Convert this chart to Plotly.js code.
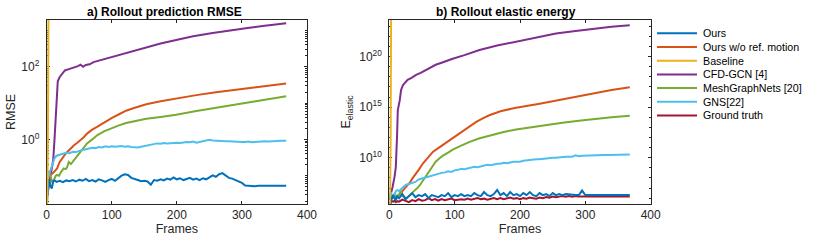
<!DOCTYPE html>
<html><head><meta charset="utf-8">
<script src="https://cdn.plot.ly/plotly-3.0.1.min.js"></script>
<style>html,body{margin:0;padding:0;background:#fff;}#chart{width:830px;height:241px;}</style>
</head><body><div id="chart"></div>
<script>
// ---------- data (values stored as log10 exponents) ----------
const seriesNames = ["Ours","Ours w/o ref. motion","Baseline","CFD-GCN [4]","MeshGraphNets [20]","GNS[22]","Ground truth"];
const seriesColors = ["#0072BD","#D95319","#EDB120","#7E2F8E","#77AC30","#4DBEEE","#A2142F"];
const xTickVals = [0,100,200,300,400];

const framesDense = [0,2,4,6,8,10,12,15,20,25,
 30,35,40,45,50,55,60,65,70,75,
 80,85,90,95,100,105,110,115,120,125,
 130,135,140,145,150,155,160,165,170,175,
 180,185,190,195,200,205,210,215,220,225,
 230,235,240,245,250,255,260,265,270,275,
 280,285,290,295,300,305,310,315,320,325,
 330,335,340,345,350,355,360,365,368];

// a) RMSE
const oursRmseExp = [-1.75,-1.35,-1.12,-1.3,-1.35,-1.15,-1.13,-1.17,-1.14,-1.18,
 -1.13,-1.15,-1.12,-1.16,-1.11,-1.14,-1.09,-1.15,-1.12,-1.16,
 -1.1,-1.13,-1.17,-1.12,-1.09,-1.14,-1.06,-1.0,-0.96,-0.98,
 -1.06,-1.1,-1.12,-1.15,-1.14,-1.16,-1.25,-1.12,-1.14,-1.1,
 -1.13,-1.08,-1.11,-1.05,-1.1,-1.07,-1.12,-1.09,-1.06,-1.11,
 -1.08,-1.12,-1.07,-1.1,-1.05,-0.99,-1.03,-0.96,-0.93,-1.0,
 -1.06,-1.08,-1.12,-1.14,-1.2,-1.27,-1.28,-1.28,-1.29,-1.28,
 -1.28,-1.29,-1.28,-1.28,-1.29,-1.28,-1.28,-1.28,-1.28];
const gnsRmseExp = [-1.0,-1.03,-0.95,-0.85,-0.75,-0.62,-0.52,-0.45,-0.42,-0.4,
 -0.37,-0.38,-0.34,-0.35,-0.31,-0.29,-0.27,-0.25,-0.23,-0.24,
 -0.21,-0.22,-0.19,-0.21,-0.19,-0.2,-0.19,-0.18,-0.2,-0.19,
 -0.21,-0.22,-0.22,-0.2,-0.18,-0.16,-0.14,-0.13,-0.11,-0.12,
 -0.1,-0.11,-0.1,-0.11,-0.09,-0.1,-0.08,-0.07,-0.08,-0.06,
 -0.09,-0.07,-0.05,-0.04,-0.01,-0.03,-0.04,-0.05,-0.04,-0.05,
 -0.05,-0.06,-0.05,-0.06,-0.07,-0.07,-0.06,-0.08,-0.07,-0.06,
 -0.06,-0.05,-0.06,-0.05,-0.04,-0.05,-0.04,-0.04,-0.04];
const woRefRmseFrames = [0,3,5,8,11,13,16,20,24,28,32,37,42,47,52,57,62,70,78,86,93,101,112,122,133,153,175,199,230,260,286,320,345,368];
const woRefRmseExp = [-0.95,-1.0,-0.93,-0.95,-0.9,-0.85,-0.8,-0.62,-0.5,-0.42,-0.34,-0.24,-0.16,-0.09,-0.02,0.06,0.16,0.27,0.35,0.44,0.52,0.6,0.7,0.79,0.86,0.97,1.05,1.13,1.22,1.3,1.36,1.44,1.49,1.54];
const mgnRmseFrames = [0,3,6,9,11,14,16,19,22,26,29,31,34,37,39,44,48,52,57,62,70,78,88,98,110,122,138,153,175,199,230,260,286,320,345,368];
const mgnRmseExp = [-0.95,-0.9,-1.03,-1.2,-1.12,-1.0,-0.98,-1.0,-0.9,-0.8,-0.82,-0.78,-0.62,-0.68,-0.64,-0.52,-0.45,-0.34,-0.22,-0.11,0.0,0.12,0.22,0.3,0.38,0.45,0.52,0.57,0.62,0.68,0.78,0.87,0.94,1.05,1.12,1.19];
const cfdRmseFrames = [0,3,5,8,10,12,14,15,17,20,24,28,33,38,43,48,52,56,60,66,72,78,85,92,101,115,130,153,175,199,225,255,280,306,335,368];
const cfdRmseExp = [-1.6,-1.3,-1.03,-0.8,-0.57,0.0,0.6,1.2,1.6,1.72,1.82,1.9,1.93,1.96,1.98,2.02,2.06,2.0,2.05,2.07,2.13,2.16,2.2,2.23,2.28,2.36,2.43,2.55,2.64,2.74,2.84,2.93,3.0,3.06,3.13,3.2];
const baselineFrames = [0,1,2,3,4,5];
const baselineRmseExp = [-2.2,-1.8,0.5,4,8,12];

// b) elastic energy
const oursEnergyExp = [5.45,5.5,6.0,6.3,6.0,5.8,6.2,6.0,6.4,5.9,
 6.2,6.5,6.1,6.3,6.2,6.4,6.0,6.3,6.2,6.1,
 6.3,6.2,6.5,6.1,6.3,6.2,6.4,6.2,6.3,6.2,
 6.5,6.3,6.2,6.6,6.3,6.2,6.4,6.8,6.3,6.5,
 6.2,6.6,6.3,6.4,6.2,6.5,6.3,6.6,6.3,6.2,
 6.5,6.3,6.4,6.2,6.5,6.3,6.4,6.3,6.4,6.35,
 6.3,6.3,6.3,6.75,6.3,6.3,6.3,6.3,6.3,6.3,
 6.3,6.3,6.3,6.3,6.3,6.3,6.3,6.3,6.3];
const truthEnergyExp = [5.6,5.55,5.7,5.65,5.75,5.6,5.7,5.65,5.85,5.7,
 5.6,5.8,5.7,5.9,5.75,5.8,6.0,5.8,5.9,5.75,
 5.9,5.8,5.85,5.95,5.8,5.85,5.9,5.85,5.95,5.85,
 5.9,6.0,5.9,5.95,5.85,5.95,6.0,5.9,6.0,5.9,
 5.95,6.05,5.95,6.0,5.9,6.0,5.95,6.05,6.0,5.95,
 6.05,6.0,6.1,6.05,6.15,6.1,6.15,6.2,6.15,6.2,
 6.15,6.2,6.15,6.15,6.15,6.15,6.15,6.15,6.15,6.15,
 6.15,6.15,6.15,6.15,6.15,6.15,6.15,6.15,6.15];
const gnsEnergyExp = [6.3,6.6,6.3,6.1,6.3,6.7,6.8,6.7,7.0,7.3,
 7.4,7.5,7.6,7.85,7.95,8.0,8.1,8.2,8.35,8.4,
 8.5,8.55,8.65,8.6,8.75,8.8,8.9,8.85,8.95,9.0,
 9.1,9.05,9.15,9.2,9.3,9.25,9.35,9.4,9.4,9.5,
 9.45,9.55,9.6,9.6,9.6,9.7,9.75,9.75,9.8,9.85,
 9.85,9.9,9.95,9.95,10.0,10.0,10.05,10.05,10.1,10.1,
 10.1,10.25,10.15,10.2,10.2,10.22,10.23,10.24,10.25,10.26,
 10.27,10.28,10.28,10.29,10.3,10.3,10.31,10.32,10.32];
const woRefEnergyFrames = [0,5,10,15,20,26,31,36,41,46,51,56,61,67,76,87,100,112,122,133,143,153,170,194,230,265,290,316,340,368];
const woRefEnergyExp = [6.1,6.0,6.1,6.3,6.7,7.1,7.5,8.0,8.4,8.9,9.4,9.8,10.2,10.6,11.0,11.5,12.1,12.6,13.1,13.55,13.9,14.2,14.6,14.95,15.35,15.75,16.05,16.4,16.7,16.97];
const mgnEnergyFrames = [0,4,8,11,14,18,21,25,28,32,36,40,43,47,51,56,61,66,71,76,82,90,97,110,122,137,153,175,194,230,265,290,316,340,368];
const mgnEnergyExp = [6.3,6.1,6.4,6.0,6.3,6.7,6.2,6.0,6.1,6.3,6.6,6.8,7.0,7.3,7.7,8.1,8.6,9.1,9.6,9.9,10.2,10.5,10.8,11.2,11.55,11.9,12.2,12.55,12.8,13.15,13.45,13.65,13.85,14.0,14.16];
const cfdEnergyFrames = [0,3,5,8,10,12,13,16,18,21,24,28,34,41,48,56,63,71,80,90,97,115,138,165,194,225,255,285,316,340,368];
const cfdEnergyExp = [5.8,6.5,7.1,8.1,9.1,12.4,14.7,15.7,16.7,17.2,17.4,17.7,17.9,18.2,18.4,18.7,18.9,19.2,19.4,19.65,19.8,20.15,20.66,21.1,21.5,21.9,22.3,22.55,22.8,22.95,23.1];
const baselineEnergyExp = [5.0,5.3,12,25,40,60];

// ---------- build ----------
const pow10 = a => a.map(v => Math.pow(10, v));
function tr(i, x, yExp, xa, ya) {
  return {x: x, y: pow10(yExp), xaxis: xa, yaxis: ya, type: 'scatter', mode: 'lines',
    name: seriesNames[i], showlegend: false,
    line: {color: seriesColors[i], width: 2}, hoverinfo: 'skip'};
}
const traces = [
  tr(3, cfdRmseFrames, cfdRmseExp, 'x', 'y'),
  tr(1, woRefRmseFrames, woRefRmseExp, 'x', 'y'),
  tr(4, mgnRmseFrames, mgnRmseExp, 'x', 'y'),
  tr(5, framesDense, gnsRmseExp, 'x', 'y'),
  tr(0, framesDense, oursRmseExp, 'x', 'y'),
  tr(2, baselineFrames, baselineRmseExp, 'x', 'y'),
  tr(3, cfdEnergyFrames, cfdEnergyExp, 'x2', 'y2'),
  tr(1, woRefEnergyFrames, woRefEnergyExp, 'x2', 'y2'),
  tr(4, mgnEnergyFrames, mgnEnergyExp, 'x2', 'y2'),
  tr(5, framesDense, gnsEnergyExp, 'x2', 'y2'),
  tr(6, framesDense, truthEnergyExp, 'x2', 'y2'),
  tr(0, framesDense, oursEnergyExp, 'x2', 'y2'),
  tr(2, baselineFrames, baselineEnergyExp, 'x2', 'y2')
];

const W = 830, H = 241;
const axCol = '#262626';
const font = {family: 'Liberation Sans, Arial, sans-serif', size: 12, color: axCol};
const yTop = 20, yBot = 204;
const xDomA = [46.7 / W, 307 / W], xDomB = [389.3 / W, 650.7 / W];
const yDom = [(H - yBot) / H, (H - yTop) / H];

function xAxis(dom, anchor) {
  return {domain: dom, anchor: anchor, range: [0, 400], tickvals: xTickVals, layer: 'below traces',
    ticks: 'inside', ticklen: 3, tickcolor: axCol, showline: true, linecolor: axCol, linewidth: 1,
    mirror: 'ticks', showgrid: false, zeroline: false, tickfont: {size: 12, color: axCol},
    title: {text: 'Frames', font: {size: 12.5, color: axCol}, standoff: 2}};
}
function yAxis(range, tv, tt, title, anchor, minorDtick, standoff) {
  return {domain: yDom, anchor: anchor, type: 'log', range: range, tickvals: tv, ticktext: tt,
    layer: 'below traces', ticklabelstandoff: 4,
    ticks: 'inside', ticklen: 3, tickcolor: axCol, showline: true, linecolor: axCol, linewidth: 1,
    mirror: 'ticks', showgrid: false, zeroline: false, tickfont: {size: 12, color: axCol},
    minor: {ticks: 'inside', ticklen: 2, tickcolor: axCol, dtick: minorDtick, showgrid: false},
    title: {text: title, font: {size: 12.5, color: axCol}, standoff: standoff}};
}

// legend drawn as a compact MATLAB-style list (lines + labels) from the series arrays
const legX0 = 657, legX1 = 697, legTextX = 701, legY0 = 33.3, legDy = 13.7;
const legendShapes = seriesNames.map((n, i) => ({type: 'line', xref: 'paper', yref: 'paper',
  x0: legX0 / W, x1: legX1 / W, y0: 1 - (legY0 + i * legDy) / H, y1: 1 - (legY0 + i * legDy) / H,
  line: {color: seriesColors[i], width: 2}}));
const legendLabels = seriesNames.map((n, i) => ({text: n, xref: 'paper', yref: 'paper',
  x: legTextX / W, y: 1 - (legY0 + i * legDy) / H, xanchor: 'left', yanchor: 'middle',
  showarrow: false, font: {size: 10.7, color: '#000'}}));

const layout = {
  width: W, height: H, margin: {l: 0, r: 0, t: 0, b: 0},
  paper_bgcolor: '#fff', plot_bgcolor: '#fff', font: font, showlegend: false,
  xaxis: xAxis(xDomA, 'y'),
  yaxis: yAxis([-1.78, 3.29], [1, 100], ['10<sup>0</sup>', '10<sup>2</sup>'], 'RMSE', 'x', 'D1', 2),
  xaxis2: xAxis(xDomB, 'y2'),
  yaxis2: yAxis([5.42, 23.63], [1e10, 1e15, 1e20], ['10<sup>10</sup>', '10<sup>15</sup>', '10<sup>20</sup>'], 'E<sub>elastic</sub>', 'x2', 1, 5),
  shapes: legendShapes,
  annotations: [
    {text: '<b>a) Rollout prediction RMSE</b>', xref: 'paper', yref: 'paper', x: 164 / W, y: 1 - 11.5 / H,
      xanchor: 'center', yanchor: 'middle', showarrow: false, font: {size: 12, color: '#000'}},
    {text: '<b>b) Rollout elastic energy</b>', xref: 'paper', yref: 'paper', x: 505.5 / W, y: 1 - 11.5 / H,
      xanchor: 'center', yanchor: 'middle', showarrow: false, font: {size: 12, color: '#000'}}
  ].concat(legendLabels)
};
Plotly.newPlot('chart', traces, layout, {staticPlot: true, displayModeBar: false});
</script></body></html>
